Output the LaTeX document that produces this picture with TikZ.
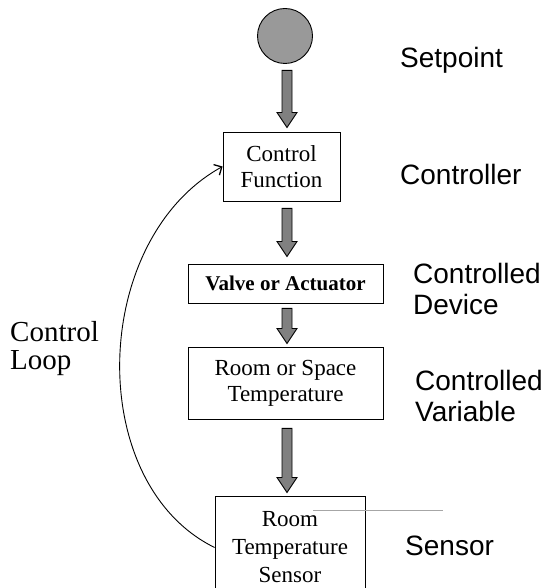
\documentclass[tikz,border=0pt]{standalone}
\usepackage{fontspec}
\setmainfont{Liberation Serif}
\setsansfont{Liberation Sans}
\usetikzlibrary{calc,arrows.meta}

% gros trait gris : #1 depart, #2 arrivee, #3 ecart haut, #4 ecart bas
\newcommand{\fleche}[4]{%
  \draw[fleche] let \p1=(#1.south), \p2=(#2.north), \p3=(axe) in
    (\x3-5pt,\y1-#3) -- (\x3+5pt,\y1-#3) -- (\x3+5pt,\y2+#4+15pt) -- (\x3+10pt,\y2+#4+15pt)
    -- (\x3,\y2+#4) -- (\x3-10pt,\y2+#4+15pt) -- (\x3-5pt,\y2+#4+15pt) -- cycle;
}

\begin{document}
\begin{tikzpicture}[x=1pt,y=1pt,
    bloc/.style={draw, line width=0.9pt, align=center, inner sep=0pt,
      font=\fontsize{23}{26}\selectfont},
    etiquette/.style={anchor=base west, align=left, inner sep=0pt,
      font=\sffamily\fontsize{28}{31}\selectfont},
    fleche/.style={line width=0.9pt, fill=black!50, line join=miter}]
  \clip (0,0) rectangle (550,588);

  \coordinate (axe) at (287,0);

  % consigne
  \node[circle, draw, line width=0.9pt, fill=black!40, minimum size=55pt, inner sep=0pt]
    (setpoint) at (285,552) {};

  % blocs de la chaine
  \node[bloc, minimum width=117pt, minimum height=69pt] (ctrl) at (281.5,421.5) {Control\\Function};
  \node[bloc, minimum width=195pt, minimum height=39pt, font=\bfseries\fontsize{21}{26}\selectfont]
    (valve) at (285.5,304.5) {Valve or Actuator};
  \node[bloc, minimum width=195pt, minimum height=72pt] (room) at (285.5,205) {Room or Space\\Temperature};
  \node[bloc, minimum width=150pt, minimum height=103pt, font=\fontsize{23}{28}\selectfont]
    (sensor) at (290,40.5) {Room\\Temperature\\Sensor};

  \fleche{setpoint}{ctrl}{6.5pt}{4pt}
  \fleche{ctrl}{valve}{7pt}{7pt}
  \fleche{valve}{room}{5pt}{3pt}
  \fleche{room}{sensor}{9pt}{3pt}

  % boucle de retour
  \draw[line width=0.9pt, -{Straight Barb[length=6pt, width=12pt, line width=1.3pt]}]
    (sensor.west) .. controls (84,105) and (90,348) .. (ctrl.west);
  \node[anchor=base west, align=left, inner sep=0pt, font=\fontsize{29}{28}\selectfont]
    (loop) at (10,218) {Control\\Loop};

  % trait parasite
  \draw[black!35, line width=0.8pt] (313,78) -- (443,78);

  % legendes
  \node[etiquette] (lsetpoint) at (400,520) {Setpoint};
  \node[etiquette] (lctrl) at (400,403) {Controller};
  \node[etiquette] (ldevice) at (413,273) {Controlled\\Device};
  \node[etiquette] (lvariable) at (415,166) {Controlled\\Variable};
  \node[etiquette] (lsensor) at (405,32) {Sensor};
\end{tikzpicture}
\end{document}
